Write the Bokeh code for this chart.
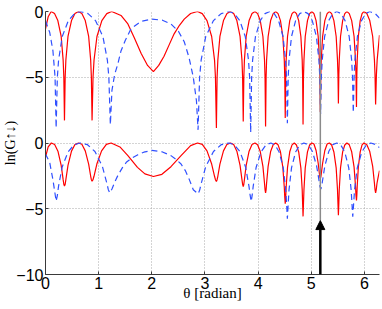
import math
from bokeh.plotting import figure
from bokeh.models import Range1d, FixedTicker, Arrow, NormalHead
from bokeh.embed import file_html
from bokeh.resources import INLINE

# ---- data: (theta [rad], ln G) ----
RED_UPPER = [
    (0, -1.33), (0.05, -0.4), (0.107, 0), (0.17, -0.16), (0.232, -0.69), (0.295, -1.9), (0.332, -3.7),
    (0.345, -5.0), (0.357, -8.28), (0.37, -5.0), (0.383, -3.7), (0.423, -1.9), (0.489, -0.69), (0.554, -0.16),
    (0.62, 0), (0.684, -0.16), (0.748, -0.69), (0.812, -1.9), (0.85, -3.7), (0.863, -5.0), (0.876, -8.28),
    (0.894, -5.0), (0.913, -3.7), (0.968, -1.9), (1.06, -0.69), (1.153, -0.16), (1.245, 0), (1.42, -0.3),
    (1.55, -0.95), (1.67, -2.0), (1.8, -3.2), (1.92, -4.1), (2.03, -4.57), (2.13, -4.1), (2.23, -3.4),
    (2.33, -2.5), (2.42, -1.7), (2.52, -1.05), (2.61, -0.58), (2.73, -0.15), (2.86, 0), (2.949, -0.16),
    (3.038, -0.69), (3.126, -1.9), (3.18, -3.7), (3.197, -5.0), (3.215, -8.86), (3.228, -5.0), (3.242, -3.7),
    (3.281, -1.9), (3.348, -0.69), (3.414, -0.16), (3.48, 0), (3.54, -0.16), (3.60, -0.69), (3.66, -1.9),
    (3.696, -3.7), (3.708, -5.0), (3.72, -8.36), (3.731, -5.0), (3.742, -3.7), (3.775, -1.9), (3.83, -0.69),
    (3.885, -0.16), (3.94, 0), (3.99, -0.16), (4.04, -0.69), (4.09, -1.9), (4.12, -3.7), (4.13, -5.0),
    (4.14, -8.75), (4.15, -5.0), (4.159, -3.7), (4.188, -1.9), (4.235, -0.69), (4.283, -0.16), (4.33, 0),
    (4.375, -0.16), (4.42, -0.69), (4.465, -1.9), (4.492, -3.7), (4.501, -5.0), (4.51, -8.1), (4.519, -5.0),
    (4.527, -3.7), (4.553, -1.9), (4.595, -0.69), (4.638, -0.16), (4.68, 0), (4.721, -0.16), (4.763, -0.69),
    (4.804, -1.9), (4.829, -3.7), (4.837, -5.0), (4.845, -8.6), (4.853, -5.0), (4.862, -3.7), (4.886, -1.9),
    (4.928, -0.69), (4.969, -0.16), (5.01, 0), (5.05, -0.16), (5.09, -0.69), (5.13, -1.9), (5.154, -3.7),
    (5.162, -4.9), (5.17, -7.65), (5.179, -4.9), (5.187, -3.7), (5.213, -1.9), (5.255, -0.69), (5.298, -0.16),
    (5.34, 0), (5.383, -0.16), (5.425, -0.69), (5.468, -1.9), (5.493, -3.7), (5.502, -4.8), (5.51, -7.0),
    (5.518, -4.8), (5.526, -3.7), (5.55, -1.9), (5.59, -0.69), (5.63, -0.16), (5.67, 0), (5.715, -0.16),
    (5.76, -0.69), (5.805, -1.9), (5.832, -3.7), (5.841, -4.8), (5.85, -7.27), (5.857, -4.8), (5.864, -3.7),
    (5.885, -1.9), (5.92, -0.69), (5.955, -0.16), (5.99, 0), (6.045, -0.16), (6.10, -0.69), (6.155, -1.9),
    (6.188, -3.7), (6.199, -4.8), (6.21, -7.07), (6.225, -4.8), (6.239, -3.7), (6.283, -1.8),
]

RED_LOWER = [
    (0, -1.09), (0.05, -0.3), (0.11, 0), (0.172, -0.12), (0.234, -0.62), (0.295, -1.70), (0.332, -2.79),
    (0.345, -3.14), (0.357, -3.28), (0.37, -3.14), (0.383, -2.79), (0.423, -1.70), (0.489, -0.62),
    (0.554, -0.12), (0.62, 0), (0.684, -0.10), (0.748, -0.60), (0.812, -1.60), (0.85, -2.53), (0.863, -2.79),
    (0.876, -2.9), (0.894, -2.79), (0.912, -2.53), (0.966, -1.60), (1.055, -0.60), (1.145, -0.10),
    (1.235, 0), (1.4, -0.3), (1.55, -0.96), (1.73, -1.85), (1.87, -2.35), (2.03, -2.55), (2.19, -2.38),
    (2.36, -1.8), (2.55, -0.96), (2.73, -0.2), (2.86, 0), (2.949, -0.10), (3.038, -0.60), (3.126, -1.60),
    (3.18, -2.53), (3.197, -2.79), (3.215, -2.93), (3.228, -2.79), (3.242, -2.53), (3.281, -1.60),
    (3.348, -0.60), (3.414, -0.10), (3.48, 0), (3.54, -0.12), (3.60, -0.62), (3.66, -1.70), (3.696, -2.79),
    (3.708, -3.14), (3.72, -3.31), (3.731, -3.14), (3.742, -2.79), (3.775, -1.70), (3.83, -0.62),
    (3.885, -0.12), (3.94, 0), (3.99, -0.13), (4.04, -0.65), (4.09, -1.78), (4.12, -3.06), (4.13, -3.55),
    (4.14, -3.79), (4.15, -3.55), (4.159, -3.06), (4.188, -1.78), (4.235, -0.65), (4.283, -0.13), (4.33, 0),
    (4.375, -0.14), (4.42, -0.67), (4.465, -1.86), (4.492, -3.37), (4.501, -4.13), (4.51, -4.62),
    (4.519, -4.13), (4.527, -3.37), (4.553, -1.86), (4.595, -0.67), (4.638, -0.14), (4.68, 0),
    (4.721, -0.15), (4.763, -0.68), (4.804, -1.89), (4.829, -3.56), (4.837, -4.6), (4.845, -5.58),
    (4.853, -4.6), (4.862, -3.56), (4.886, -1.89), (4.928, -0.68), (4.969, -0.15), (5.01, 0), (5.05, -0.08),
    (5.09, -0.57), (5.13, -1.54), (5.154, -2.37), (5.162, -2.59), (5.17, -2.68), (5.179, -2.59),
    (5.187, -2.37), (5.213, -1.54), (5.255, -0.57), (5.298, -0.08), (5.34, 0), (5.383, -0.15), (5.425, -0.68),
    (5.468, -1.89), (5.493, -3.56), (5.502, -4.6), (5.51, -5.5), (5.518, -4.6), (5.526, -3.56), (5.55, -1.89),
    (5.59, -0.68), (5.63, -0.15), (5.67, 0), (5.715, -0.14), (5.76, -0.67), (5.805, -1.84), (5.832, -3.29),
    (5.841, -3.97), (5.85, -4.37), (5.857, -3.97), (5.864, -3.29), (5.885, -1.84), (5.92, -0.67),
    (5.955, -0.14), (5.99, 0), (6.045, -0.13), (6.10, -0.65), (6.155, -1.78), (6.188, -3.06), (6.199, -3.55),
    (6.21, -3.79), (6.222, -3.55), (6.236, -3.06), (6.258, -2.6), (6.283, -2.1),
]

BLUE_UPPER = [
    (0, -0.7), (0.08, -1.6), (0.14, -3.0), (0.18, -5.0), (0.2, -8.86), (0.223, -5.0), (0.246, -3.7),
    (0.315, -1.9), (0.43, -0.69), (0.545, -0.16), (0.66, 0), (0.80, -0.16), (0.94, -0.69), (1.08, -1.9),
    (1.164, -3.7), (1.192, -5.0), (1.22, -8.6), (1.25, -6.0), (1.3, -4.8), (1.36, -4.0), (1.42, -3.0),
    (1.5, -2.2), (1.61, -1.3), (1.8, -0.75), (2.0, -0.58), (2.2, -0.66), (2.36, -0.95), (2.5, -1.5),
    (2.61, -2.3), (2.7, -3.5), (2.78, -5.0), (2.84, -6.8), (2.87, -9.0), (2.899, -5.0), (2.928, -3.7),
    (3.015, -1.9), (3.16, -0.69), (3.305, -0.16), (3.45, 0), (3.553, -0.16), (3.655, -0.69), (3.758, -1.9),
    (3.819, -3.7), (3.84, -5.0), (3.86, -9.2), (3.878, -5.0), (3.896, -3.7), (3.95, -1.9), (4.04, -0.69),
    (4.13, -0.16), (4.22, 0), (4.303, -0.16), (4.385, -0.69), (4.468, -1.9), (4.517, -3.7), (4.534, -5.0),
    (4.55, -8.5), (4.566, -5.0), (4.581, -3.7), (4.628, -1.9), (4.705, -0.69), (4.783, -0.16), (4.86, 0),
    (4.939, -0.16), (5.018, -0.69), (5.096, -1.9), (5.144, -3.7), (5.159, -4.9), (5.175, -7.8), (5.19, -4.9),
    (5.206, -3.7), (5.251, -1.9), (5.328, -0.69), (5.404, -0.16), (5.48, 0), (5.558, -0.16), (5.635, -0.69),
    (5.713, -1.9), (5.759, -3.7), (5.775, -4.9), (5.79, -7.7), (5.806, -4.9), (5.821, -3.7), (5.868, -1.9),
    (5.945, -0.69), (6.023, -0.16), (6.1, 0), (6.2, -0.15), (6.283, -0.5),
]

BLUE_LOWER = [
    (0, -0.83), (0.08, -1.5), (0.14, -2.8), (0.17, -3.6), (0.2, -4.42), (0.2225, -4.0), (0.245, -3.3),
    (0.3125, -1.84), (0.425, -0.67), (0.537, -0.14), (0.65, 0), (0.79, -0.13), (0.93, -0.65), (1.07, -1.78),
    (1.154, -3.06), (1.182, -3.55), (1.21, -3.79), (1.25, -3.5), (1.3, -3.0), (1.36, -2.48), (1.45, -1.85),
    (1.52, -1.47), (1.62, -1.15), (1.73, -0.91), (1.85, -0.7), (2.0, -0.56), (2.2, -0.68), (2.36, -0.96),
    (2.46, -1.25), (2.55, -1.6), (2.63, -2.1), (2.7, -2.73), (2.78, -3.55), (2.87, -3.87), (2.899, -3.6),
    (2.928, -3.1), (3.015, -1.79), (3.16, -0.65), (3.305, -0.13), (3.45, 0), (3.555, -0.14), (3.66, -0.67),
    (3.765, -1.84), (3.828, -3.3), (3.849, -3.97), (3.87, -4.45), (3.888, -3.97), (3.907, -3.3),
    (3.963, -1.84), (4.055, -0.67), (4.148, -0.14), (4.24, 0), (4.318, -0.15), (4.395, -0.68), (4.473, -1.89),
    (4.519, -3.56), (4.535, -4.6), (4.55, -5.76), (4.566, -4.6), (4.581, -3.56), (4.628, -1.89),
    (4.705, -0.68), (4.783, -0.15), (4.86, 0), (4.94, -0.12), (5.02, -0.63), (5.10, -1.74), (5.148, -2.91),
    (5.164, -3.32), (5.18, -3.5), (5.195, -3.32), (5.21, -2.91), (5.255, -1.74), (5.33, -0.63),
    (5.405, -0.12), (5.48, 0), (5.555, -0.15), (5.63, -0.68), (5.705, -1.89), (5.75, -3.56), (5.765, -4.6),
    (5.78, -5.6), (5.797, -4.6), (5.814, -3.56), (5.865, -1.89), (5.95, -0.68), (6.035, -0.15), (6.12, 0),
    (6.2, -0.1), (6.283, -0.35),
]

UPPER_OFFSET = 10          # upper panel drawn 10 units higher
Y_TICKS = [-10, -5, 0, 5, 10]
Y_TICK_LABELS = ["\u221210", "\u22125", "0", "\u22125", "0"]
X_TICKS = [0, 1, 2, 3, 4, 5, 6]
MARK_THETA = 5.17
ARROW_TIP = -5.9

def xs(pts):
    return [a for a, b in pts]

def ys(pts, off=0):
    return [b + off for a, b in pts]

p = figure(width=382, height=309, x_range=Range1d(0, 2 * math.pi), y_range=Range1d(-10, 10),
           output_backend="svg", toolbar_location=None,
           min_border_left=44, min_border_right=3, min_border_top=11, min_border_bottom=35)
p.outline_line_color = None
p.background_fill_color = "white"
p.border_fill_color = "white"

# grid
p.xgrid.ticker = FixedTicker(ticks=[1, 2, 3, 4, 5, 6])
p.ygrid.ticker = FixedTicker(ticks=[-5, 0, 5, 10])
for g in (p.xgrid, p.ygrid):
    g.grid_line_color = "#a8a8a8"
    g.grid_line_dash = "1 2"
    g.grid_line_width = 1

# axes
p.xaxis.ticker = FixedTicker(ticks=X_TICKS)
p.yaxis.ticker = FixedTicker(ticks=Y_TICKS)
p.yaxis.major_label_overrides = {t: s for t, s in zip(Y_TICKS, Y_TICK_LABELS)}
for ax in (p.xaxis, p.yaxis):
    ax.axis_line_color = "#3a3a3a"
    ax.axis_line_width = 1
    ax.major_tick_in = 3
    ax.major_tick_out = 0
    ax.major_tick_line_color = "#3a3a3a"
    ax.minor_tick_line_color = None
    ax.major_label_text_font = "Liberation Sans"
    ax.major_label_text_font_size = "16px"
    ax.major_label_text_color = "black"
    ax.axis_label_text_font = "Liberation Serif"
    ax.axis_label_text_font_style = "normal"
    ax.axis_label_text_color = "black"
p.yaxis.major_label_standoff = 2
p.xaxis.major_label_standoff = 2
p.xaxis.axis_label = "\u03b8 [radian]"
p.xaxis.axis_label_text_font_size = "15px"
p.xaxis.axis_label_text_baseline = "top"
p.xaxis.axis_label_standoff = -7
p.yaxis.axis_label = "ln(G\u2191\u2193)"
p.yaxis.axis_label_text_font_size = "14px"
p.yaxis.axis_label_standoff = -5

# curves
p.line(xs(RED_UPPER), ys(RED_UPPER, UPPER_OFFSET), line_color="#ff0000", line_width=1.2)
p.line(xs(BLUE_UPPER), ys(BLUE_UPPER, UPPER_OFFSET), line_color="#3050ff", line_width=1.2, line_dash="6 4")
p.line(xs(RED_LOWER), ys(RED_LOWER), line_color="#ff0000", line_width=1.2)
p.line(xs(BLUE_LOWER), ys(BLUE_LOWER), line_color="#3050ff", line_width=1.2, line_dash="6 4")

# marker line + arrow
p.segment(x0=[MARK_THETA], y0=[ARROW_TIP], x1=[MARK_THETA], y1=[10], line_color="#8a8a8a", line_width=1.5)
p.add_layout(Arrow(end=NormalHead(size=9, fill_color="black", line_color="black"),
                   x_start=MARK_THETA, y_start=-10, x_end=MARK_THETA, y_end=ARROW_TIP,
                   line_color="black", line_width=2.5))

open("out.html", "w").write(file_html(p, INLINE))
